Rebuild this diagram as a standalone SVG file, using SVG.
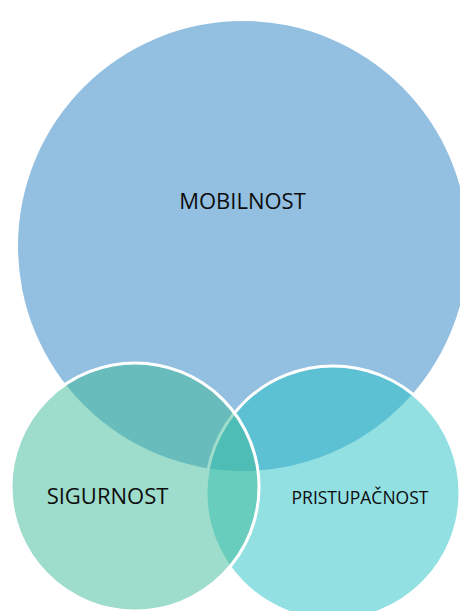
<svg xmlns="http://www.w3.org/2000/svg" width="460" height="611" viewBox="0 0 460 611">
<style>
.lbl{font-family:"Open Sans","Noto Sans",sans-serif;fill:#0d0d0d;text-anchor:middle}
</style>
<rect width="460" height="611" fill="#ffffff"/>
<g id="mobilnost">
<circle cx="243" cy="246" r="225" fill="#93c0e1"/>
<text class="lbl" x="242.5" y="209" font-size="22">MOBILNOST</text>
</g>
<g id="pristupacnost">
<circle cx="333" cy="493" r="127" fill="#27c1c7" fill-opacity="0.5" stroke="#ffffff" stroke-width="3"/>
<text class="lbl" x="360" y="503.5" font-size="17.5">PRISTUPAČNOST</text>
</g>
<g id="sigurnost">
<circle cx="135" cy="487" r="124" fill="#3db997" fill-opacity="0.5" stroke="#ffffff" stroke-width="3"/>
<text class="lbl" x="107.5" y="503.5" font-size="22">SIGURNOST</text>
</g>
<g id="connectors"></g>
</svg>
